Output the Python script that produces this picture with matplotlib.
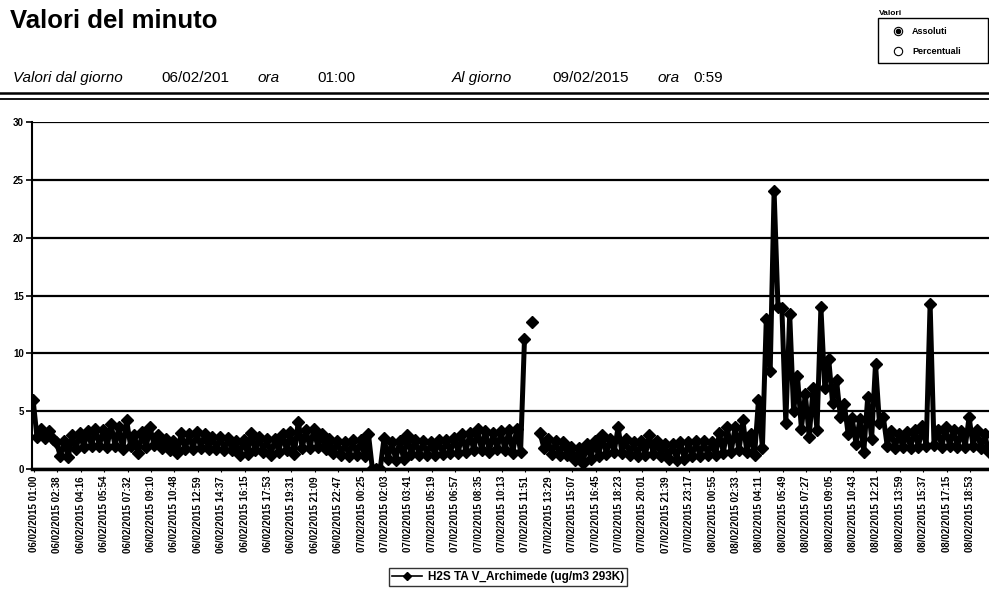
import matplotlib
matplotlib.use('Agg')
import matplotlib.pyplot as plt
import numpy as np
from matplotlib.lines import Line2D
from matplotlib.patches import Rectangle

plt.rcParams['font.family'] = ['Liberation Sans', 'DejaVu Sans']

# upper / lower edge of the minute-value band, one pair every third of a label step
band_top = [6.0, 3.5, 3.3, 2.3, 2.4, 2.9, 3.1, 3.3, 3.5, 3.4,
            3.9, 3.6, 4.2, 2.9, 3.2, 3.6, 2.9, 2.6, 2.4, 3.1,
            3.0, 3.2, 3.0, 2.8, 2.8, 2.7, 2.4, 2.5, 3.1, 2.8,
            2.6, 2.6, 3.0, 3.2, 4.1, 3.4, 3.5, 3.0, 2.6, 2.4,
            2.3, 2.5, 2.5, 3.0, 0.0, 2.7, 2.3, 2.4, 2.9, 2.5,
            2.4, 2.3, 2.5, 2.5, 2.7, 3.0, 3.1, 3.5, 3.3, 3.1,
            3.3, 3.4, 3.5, 11.2, 12.7, 3.1, 2.6, 2.4, 2.3, 1.9,
            1.8, 2.2, 2.4, 2.9, 2.6, 3.6, 2.6, 2.3, 2.4, 2.9,
            2.4, 2.2, 2.2, 2.3, 2.3, 2.4, 2.4, 2.3, 3.1, 3.6,
            3.65, 4.2, 3.0, 6.0, 13.0, 24.0, 13.9, 13.4, 8.0, 6.5,
            7.0, 14.0, 9.5, 7.7, 5.6, 4.4, 4.3, 6.2, 9.1, 4.5,
            3.3, 3.0, 3.2, 3.4, 3.7, 14.3, 3.4, 3.6, 3.4, 3.3,
            4.5, 3.4, 3.0]
band_bottom = [2.8, 2.7, 2.6, 1.1, 1.0, 1.7, 1.9, 2.0, 2.0, 1.9,
               2.0, 1.7, 2.0, 1.35, 1.9, 2.1, 1.8, 1.6, 1.4, 1.7,
               1.7, 1.8, 1.7, 1.7, 1.6, 1.6, 1.2, 1.3, 1.6, 1.5,
               1.2, 1.5, 1.6, 1.3, 1.8, 1.8, 1.9, 1.7, 1.4, 1.2,
               1.1, 1.2, 1.1, 0.0, 0.0, 0.9, 0.8, 0.9, 1.3, 1.2,
               1.2, 1.2, 1.3, 1.4, 1.4, 1.5, 1.6, 1.6, 1.5, 1.7,
               1.6, 1.4, 1.5, np.nan, np.nan, 1.8, 1.3, 1.2, 1.2, 0.8,
               0.5, 0.9, 1.1, 1.3, 1.5, 1.4, 1.2, 1.1, 1.2, 1.3,
               1.1, 0.9, 0.8, 0.9, 1.1, 1.1, 1.2, 1.2, 1.4, 1.5,
               1.6, 1.5, 1.2, 1.8, 8.5, 14.0, 4.0, 5.0, 3.5, 2.8,
               3.4, 7.0, 5.7, 4.5, 3.0, 2.2, 1.5, 2.6, 4.0, 2.0,
               1.8, 1.9, 1.8, 1.9, 2.0, 2.1, 1.9, 2.0, 1.9, 1.9,
               2.0, 1.8, 1.5]

tick_labels = ['06/02/2015 01:00', '06/02/2015 02:38', '06/02/2015 04:16', '06/02/2015 05:54',
               '06/02/2015 07:32', '06/02/2015 09:10', '06/02/2015 10:48', '06/02/2015 12:59',
               '06/02/2015 14:37', '06/02/2015 16:15', '06/02/2015 17:53', '06/02/2015 19:31',
               '06/02/2015 21:09', '06/02/2015 22:47', '07/02/2015 00:25', '07/02/2015 02:03',
               '07/02/2015 03:41', '07/02/2015 05:19', '07/02/2015 06:57', '07/02/2015 08:35',
               '07/02/2015 10:13', '07/02/2015 11:51', '07/02/2015 13:29', '07/02/2015 15:07',
               '07/02/2015 16:45', '07/02/2015 18:23', '07/02/2015 20:01', '07/02/2015 21:39',
               '07/02/2015 23:17', '08/02/2015 00:55', '08/02/2015 02:33', '08/02/2015 04:11',
               '08/02/2015 05:49', '08/02/2015 07:27', '08/02/2015 09:05', '08/02/2015 10:43',
               '08/02/2015 12:21', '08/02/2015 13:59', '08/02/2015 15:37', '08/02/2015 17:15',
               '08/02/2015 18:53']
series_name = 'H2S TA V_Archimede (ug/m3 293K)'

W, H = 989, 589
fig = plt.figure(figsize=(W / 100, H / 100), dpi=100)
ax = fig.add_axes([32 / W, 1 - 469 / H, 1 - 32 / W, (469 - 122) / H])

vals = np.column_stack([band_top, band_bottom]).ravel()
xpos = -0.04 + np.arange(len(vals)) / 6
ax.plot(xpos, vals, color='black', lw=3.6, marker='D', ms=6.5, mfc='black', mec='black')

ax.set_xlim(-0.085, 40.81)
ax.set_ylim(0, 30)
ax.set_yticks(range(0, 31, 5))
ax.yaxis.grid(True, color='black', lw=1.6)
ax.set_axisbelow(True)
ax.set_xticks(range(len(tick_labels)))
ax.set_xticklabels(tick_labels, rotation=90, fontsize=7, fontweight='bold')
ax.tick_params(axis='x', length=2, pad=3)
ax.tick_params(axis='y', length=4, width=1.2, pad=2, labelsize=7)
for t in ax.get_yticklabels():
    t.set_fontweight('bold')
for s in ['top', 'right']:
    ax.spines[s].set_visible(False)
ax.spines['left'].set_linewidth(1.5)
ax.spines['bottom'].set_linewidth(2.5)

# header
fig.text(10 / W, 1 - 28 / H, 'Valori del minuto', fontsize=18.5, fontweight='bold')
row_y = 1 - 82 / H
fig.text(13 / W, row_y, 'Valori dal giorno', fontsize=11, style='italic')
fig.text(161 / W, row_y, '06/02/201', fontsize=11)
fig.text(258 / W, row_y, 'ora', fontsize=11, style='italic')
fig.text(317 / W, row_y, '01:00', fontsize=11)
fig.text(452 / W, row_y, 'Al giorno', fontsize=11, style='italic')
fig.text(552 / W, row_y, '09/02/2015', fontsize=11)
fig.text(658 / W, row_y, 'ora', fontsize=11, style='italic')
fig.text(693 / W, row_y, '0:59', fontsize=11)
for yy, lw in [(93, 1.8), (99, 1.3)]:
    fig.add_artist(Line2D([0, 1], [1 - yy / H] * 2, transform=fig.transFigure, color='black', lw=lw))

# radio box top right
fig.text(879 / W, 1 - 15 / H, 'Valori', fontsize=6, fontweight='bold')
fig.add_artist(Rectangle((878 / W, 1 - 63 / H), 110 / W, 45 / H, transform=fig.transFigure,
                         fill=False, edgecolor='black', lw=1))
for yy, label, on in [(31, 'Assoluti', True), (51, 'Percentuali', False)]:
    fig.add_artist(Line2D([898 / W], [1 - yy / H], transform=fig.transFigure, marker='o', ms=6,
                          mfc='white', mec='black', mew=0.8, ls='none'))
    if on:
        fig.add_artist(Line2D([898 / W], [1 - yy / H], transform=fig.transFigure, marker='o', ms=3,
                              mfc='black', mec='black', ls='none'))
    fig.text(912 / W, 1 - (yy + 2.5) / H, label, fontsize=6.5, fontweight='bold')

handle = Line2D([], [], color='black', lw=1.2, marker='D', ms=4)
leg = fig.legend([handle], [series_name], loc='center', bbox_to_anchor=(508 / W, 1 - 577 / H),
                 frameon=True, fancybox=False, edgecolor='black', handlelength=2.5,
                 borderpad=0.25, handletextpad=0.5, prop={'size': 8.5, 'weight': 'bold'})
leg.get_frame().set_linewidth(1)

fig.savefig('out.png', dpi=100)
